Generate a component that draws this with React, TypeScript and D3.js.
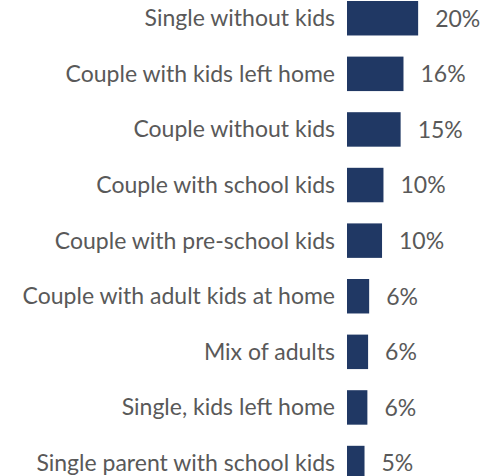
import React from "react";
import * as d3 from "d3";

const categories = [
  "Single without kids",
  "Couple with kids left home",
  "Couple without kids",
  "Couple with school kids",
  "Couple with pre-school kids",
  "Couple with adult kids at home",
  "Mix of adults",
  "Single, kids left home",
  "Single parent with school kids",
];
const values = [19.9, 15.8, 15.0, 10.2, 9.8, 6.2, 5.9, 5.7, 4.9];
const valueLabels = ["20%", "16%", "15%", "10%", "10%", "6%", "6%", "6%", "5%"];

export default function App() {
  const W = 495, H = 476;
  const x = d3.scaleLinear().domain([0, 20]).range([347, 418.5]);
  const y = d3
    .scaleBand<string>()
    .domain(categories)
    .range([-9.56, -9.56 + 55.6 * 9])
    .paddingInner(0.38)
    .paddingOuter(0.19);
  const font = "Lato, 'Open Sans', sans-serif";
  return (
    <svg width={W} height={H} style={{ position: "absolute", left: 0, top: 0, background: "#fff" }}>
      {categories.map((c, i) => {
        const yy = y(c)!;
        const bw = y.bandwidth();
        const cy = yy + bw / 2;
        return (
          <g key={c}>
            <rect x={x(0)} y={yy} width={x(values[i]) - x(0)} height={bw} fill="#203864" />
            <text x={335} y={cy} dy="0.35em" textAnchor="end" fontFamily={font} fontSize={23} fill="#595959">
              {c}
            </text>
            <text x={x(values[i]) + 17} y={cy} dy="0.36em" textAnchor="start" fontFamily={font} fontSize={23} fill="#595959">
              {valueLabels[i]}
            </text>
          </g>
        );
      })}
    </svg>
  );
}
